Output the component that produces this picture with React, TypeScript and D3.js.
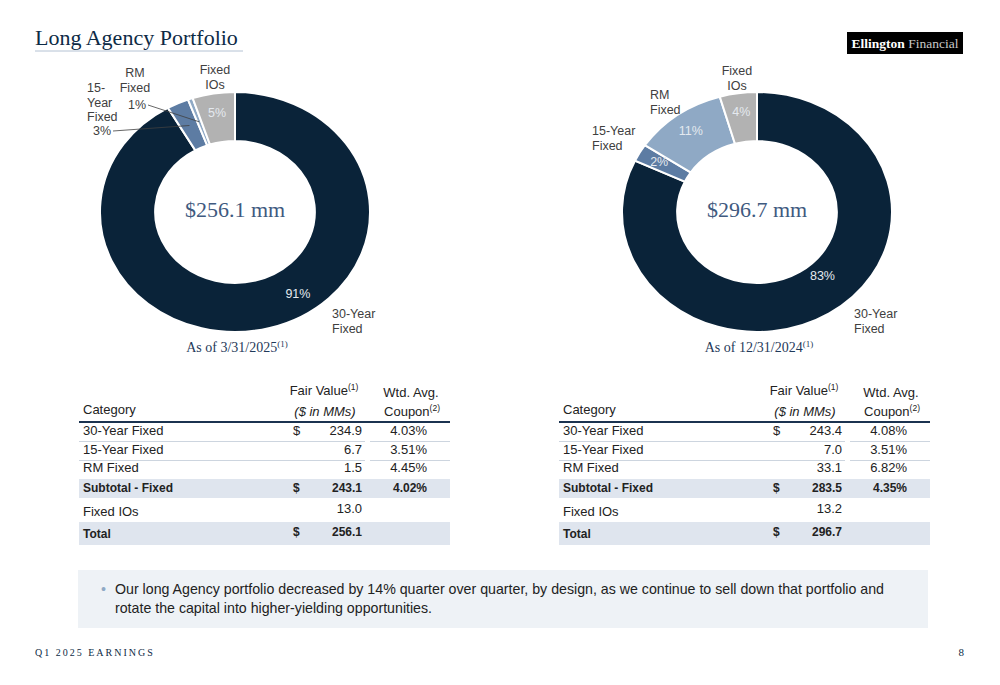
import * as d3 from 'd3';

// slice data, from the tables
const categories = ['30-Year Fixed', '15-Year Fixed', 'RM Fixed', 'Fixed IOs'];
const q1Values = [234.9, 6.7, 1.5, 13.0];
const q4Values = [243.4, 7.0, 33.1, 13.2];
const q1Pct = ['91%', '3%', '1%', '5%'];
const q4Pct = ['83%', '2%', '11%', '4%'];
const q1Coupons = [4.03, 3.51, 4.45];
const q4Coupons = [4.08, 3.51, 6.82];
const q1Subtotal = 243.1;
const q4Subtotal = 283.5;
const q1SubCoupon = 4.02;
const q4SubCoupon = 4.35;
const q1Total = 256.1;
const q4Total = 296.7;

const COLORS = ['#0a2339', '#5d7ca3', '#8fa9c5', '#b2b2b2'];
const NAVY = '#0d2a45';
const SANS = '"Liberation Sans", Arial, sans-serif';
const SERIF = '"Liberation Serif", "Times New Roman", serif';
const INNER = 71;
const OUTER = 120;
const SX = 1.125; // slide stretches the donut horizontally

type OutLabel = { lines: string[]; x: number; y: number; anchor: string; pct?: { x: number; y: number } };

type DonutProps = {
    cx: number;
    cy: number;
    values: number[];
    pct: string[];
    center: string;
    asOf: string;
    outLabels: OutLabel[];
    // slices whose % sits outside with a leader line
    leader: boolean[];
    bigLabel: { angle: number; r: number };
};

const Donut = ({ cx, cy, values, pct, center, asOf, outLabels, leader, bigLabel }: DonutProps) => {
    const pie = d3.pie<number>().sort(null).value((d) => d);
    const arcs = pie(values);
    const arc = d3.arc<d3.PieArcDatum<number>>().innerRadius(INNER).outerRadius(OUTER);
    const labelArc = d3.arc<d3.PieArcDatum<number>>().innerRadius(100).outerRadius(100);

    const pctPos = arcs.map((a, i) => {
        if (i === 0) {
            const t = (bigLabel.angle * Math.PI) / 180;
            return [Math.sin(t) * bigLabel.r * SX, -Math.cos(t) * bigLabel.r];
        }
        const [x, y] = labelArc.centroid(a);
        return [x * SX, y];
    });

    return (
        <g>
            <g transform={`translate(${cx},${cy}) scale(${SX},1)`}>
                {arcs.map((a, i) => (
                    <path
                        key={i}
                        d={arc(a) ?? ''}
                        fill={COLORS[i]}
                        stroke="#fff"
                        strokeWidth={2}
                        vectorEffect="non-scaling-stroke"
                    />
                ))}
            </g>
            <g transform={`translate(${cx},${cy})`} fontFamily={SANS} fontSize={12.5}>
                {arcs.map((a, i) => {
                    if (leader[i]) {
                        const lab = outLabels[i];
                        const [ex, ey] = arc.centroid(a);
                        return (
                            <g key={i}>
                                <line
                                    x1={lab.pct!.x - cx + 11}
                                    y1={lab.pct!.y - cy - 1}
                                    x2={ex * SX}
                                    y2={ey}
                                    stroke="#404040"
                                    strokeWidth={0.8}
                                />
                                <text
                                    x={lab.pct!.x - cx}
                                    y={lab.pct!.y - cy}
                                    textAnchor="middle"
                                    dominantBaseline="middle"
                                    fill="#404040"
                                >
                                    {pct[i]}
                                </text>
                            </g>
                        );
                    }
                    return (
                        <text
                            key={i}
                            x={pctPos[i][0]}
                            y={pctPos[i][1]}
                            textAnchor="middle"
                            dominantBaseline="middle"
                            fill="#e4e9ef"
                        >
                            {pct[i]}
                        </text>
                    );
                })}
            </g>
            <g fontFamily={SANS} fontSize={12.5} fill="#404040">
                {outLabels.map((l, i) =>
                    l.lines.map((s, j) => (
                        <text key={`${i}-${j}`} x={l.x} y={l.y + j * 14.5} textAnchor={l.anchor} dominantBaseline="middle">
                            {s}
                        </text>
                    ))
                )}
            </g>
            <text x={cx} y={cy} textAnchor="middle" dominantBaseline="middle" fontFamily={SERIF} fontSize={22} fill="#3f5a80">
                {center}
            </text>
            <text x={cx + 2} y={cy + 140} textAnchor="middle" fontFamily={SERIF} fontSize={14} fill="#1f3a5a">
                {asOf}
                <tspan fontSize={9} dy={-5}>(1)</tspan>
            </text>
        </g>
    );
};

type TableProps = {
    x0: number;
    values: number[];
    coupons: number[];
    subtotal: number;
    subCoupon: number;
    total: number;
};

const fmtV = d3.format('.1f');
const fmtC = (v: number) => `${d3.format('.2f')(v)}%`;

const Table = ({ x0, values, coupons, subtotal, subCoupon, total }: TableProps) => {
    const right = x0 + 371;
    const gapA = x0 + 286;
    const gapB = x0 + 291;
    const colDollar = x0 + 214;
    const colVal = x0 + 283;
    const colCoup = x0 + 348;
    const rowY = [432, 451, 469];
    return (
        <g fontFamily={SANS} fontSize={13} fill="#222">
            <text x={x0 + 4} y={414} fontSize={13}>Category</text>
            <text x={x0 + 245} y={395} textAnchor="middle" fontSize={13}>
                Fair Value<tspan fontSize={8.5} dy={-5}>(1)</tspan>
            </text>
            <text x={x0 + 246} y={416} textAnchor="middle" fontSize={13} fontStyle="italic">($ in MMs)</text>
            <text x={x0 + 332} y={397} textAnchor="middle" fontSize={13}>Wtd. Avg.</text>
            <text x={x0 + 333} y={416} textAnchor="middle" fontSize={13}>
                Coupon<tspan fontSize={8.5} dy={-5}>(2)</tspan>
            </text>
            <line x1={x0} x2={right} y1={422} y2={422} stroke="#1b3350" strokeWidth={2} />

            {rowY.map((y, i) => (
                <g key={i}>
                    <text x={x0 + 4} y={y} dominantBaseline="middle">{categories[i]}</text>
                    {i === 0 && <text x={colDollar} y={y} dominantBaseline="middle">$</text>}
                    <text x={colVal} y={y} textAnchor="end" dominantBaseline="middle">{fmtV(values[i])}</text>
                    <text x={colCoup} y={y} textAnchor="end" dominantBaseline="middle">{fmtC(coupons[i])}</text>
                    {i < 2 && (
                        <g stroke="#cdd5df" strokeWidth={1}>
                            <line x1={x0} x2={gapA} y1={y + 9.5} y2={y + 9.5} />
                            <line x1={gapB} x2={right} y1={y + 9.5} y2={y + 9.5} />
                        </g>
                    )}
                </g>
            ))}

            <rect x={x0} y={479} width={right - x0} height={19} fill="#dfe5ee" />
            <g fontWeight="bold" fontSize={12}>
                <text x={x0 + 4} y={489} dominantBaseline="middle">Subtotal - Fixed</text>
                <text x={colDollar} y={489} dominantBaseline="middle">$</text>
                <text x={colVal} y={489} textAnchor="end" dominantBaseline="middle">{fmtV(subtotal)}</text>
                <text x={colCoup} y={489} textAnchor="end" dominantBaseline="middle">{fmtC(subCoupon)}</text>
            </g>

            <text x={x0 + 4} y={513} dominantBaseline="middle">{categories[3]}</text>
            <text x={colVal} y={510} textAnchor="end" dominantBaseline="middle">{fmtV(values[3])}</text>

            <rect x={x0} y={522} width={right - x0} height={23} fill="#dfe5ee" />
            <g fontWeight="bold" fontSize={12}>
                <text x={x0 + 4} y={535} dominantBaseline="middle">Total</text>
                <text x={colDollar} y={533} dominantBaseline="middle">$</text>
                <text x={colVal} y={533} textAnchor="end" dominantBaseline="middle">{fmtV(total)}</text>
            </g>
        </g>
    );
};

export default function App() {
    const leftLabels: OutLabel[] = [
        { lines: ['30-Year', 'Fixed'], x: 332, y: 315, anchor: 'start' },
        { lines: ['15-', 'Year', 'Fixed'], x: 87, y: 89, anchor: 'start', pct: { x: 102, y: 132 } },
        { lines: ['RM', 'Fixed'], x: 135, y: 74, anchor: 'middle', pct: { x: 137, y: 106 } },
        { lines: ['Fixed', 'IOs'], x: 215, y: 71, anchor: 'middle' },
    ];
    const rightLabels: OutLabel[] = [
        { lines: ['30-Year', 'Fixed'], x: 854, y: 315, anchor: 'start' },
        { lines: ['15-Year', 'Fixed'], x: 592, y: 132, anchor: 'start' },
        { lines: ['RM', 'Fixed'], x: 650, y: 96, anchor: 'start' },
        { lines: ['Fixed', 'IOs'], x: 737, y: 72, anchor: 'middle' },
    ];
    return (
        <div style={{ position: 'absolute', left: 0, top: 0 }}>
            <svg width={1000} height={685} style={{ display: 'block', background: '#fff' }}>
                <text x={35} y={45} fontFamily={SERIF} fontSize={22} fill={NAVY}>Long Agency Portfolio</text>
                <line x1={35} x2={243} y1={51} y2={51} stroke="#b4c2d3" strokeWidth={1} />

                <rect x={847} y={32} width={116} height={22} fill="#000" />
                <text x={905} y={48} textAnchor="middle" fontFamily={SERIF} fontSize={13.5}>
                    <tspan fill="#fff" fontWeight="bold">Ellington</tspan>
                    <tspan fill="#c8c8c8"> Financial</tspan>
                </text>

                <Donut
                    cx={235}
                    cy={212}
                    values={q1Values}
                    pct={q1Pct}
                    center={`$${fmtV(q1Total)} mm`}
                    asOf="As of 3/31/2025"
                    outLabels={leftLabels}
                    leader={[false, true, true, false]}
                    bigLabel={{ angle: 146, r: 100 }}
                />
                <Donut
                    cx={757}
                    cy={212}
                    values={q4Values}
                    pct={q4Pct}
                    center={`$${fmtV(q4Total)} mm`}
                    asOf="As of 12/31/2024"
                    outLabels={rightLabels}
                    leader={[false, false, false, false]}
                    bigLabel={{ angle: 138, r: 87 }}
                />

                <Table x0={79} values={q1Values} coupons={q1Coupons} subtotal={q1Subtotal} subCoupon={q1SubCoupon} total={q1Total} />
                <Table x0={559} values={q4Values} coupons={q4Coupons} subtotal={q4Subtotal} subCoupon={q4SubCoupon} total={q4Total} />

                <rect x={78} y={570} width={850} height={58} fill="#eef2f6" />
                <g fontFamily={SANS} fontSize={14.2} fill="#222">
                    <text x={101} y={594} fill="#8fa9c5">•</text>
                    <text x={115} y={594}>
                        Our long Agency portfolio decreased by 14% quarter over quarter, by design, as we continue to sell down that portfolio and
                    </text>
                    <text x={115} y={613}>rotate the capital into higher-yielding opportunities.</text>
                </g>

                <text x={35} y={656} fontFamily={SERIF} fontSize={10} letterSpacing={2} fill={NAVY}>Q1 2025 EARNINGS</text>
                <text x={964} y={656} textAnchor="end" fontFamily={SERIF} fontSize={11} fill={NAVY}>8</text>
            </svg>
        </div>
    );
}
